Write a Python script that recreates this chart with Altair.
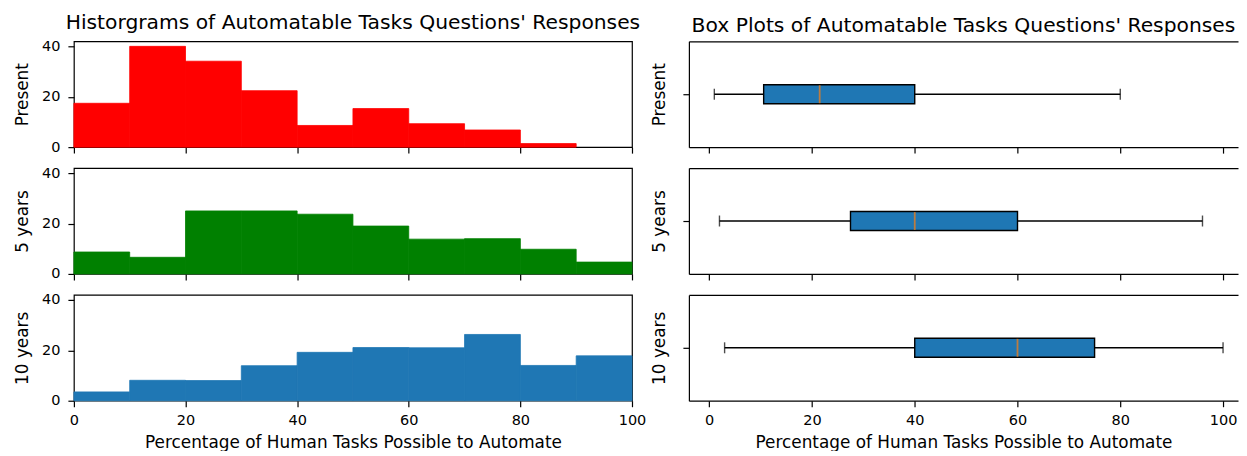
import altair as alt
import pandas as pd

# ---------------- data ----------------
row_labels = ["Present", "5 years", "10 years"]
bin_starts = [0, 10, 20, 30, 40, 50, 60, 70, 80, 90]
bin_ends = [10, 20, 30, 40, 50, 60, 70, 80, 90, 100]
present_counts = [17.4, 40, 34.1, 22.4, 8.6, 15.3, 9.3, 6.8, 1.4, 0]
five_year_counts = [8.7, 6.6, 25, 25, 23.7, 19, 13.8, 14, 9.8, 4.7]
ten_year_counts = [3.5, 8.1, 8, 13.9, 19.2, 21.1, 21, 26.3, 14, 17.8]
hist_counts = [present_counts, five_year_counts, ten_year_counts]
hist_colors = ["#ff0000", "#008000", "#1f77b4"]

box_low = [1, 2, 3]
box_q1 = [10.6, 27.5, 40]
box_median = [21.5, 40, 60]
box_q3 = [40, 60, 75]
box_high = [80, 96, 100]

x_ticks = [0, 20, 40, 60, 80, 100]
y_ticks = [0, 20, 40]
x_title = "Percentage of Human Tasks Possible to Automate"
left_title = "Historgrams of Automatable Tasks Questions' Responses"
right_title = "Box Plots of Automatable Tasks Questions' Responses"

FONT = "DejaVu Sans"
LW, RW, H = 559, 550, 106
LINE = 1.2


def title_params(text):
    return alt.TitleParams(text=text, font=FONT, fontSize=20.3, fontWeight="normal",
                           color="black", anchor="middle", frame="group", offset=5)


def x_axis(bottom, **kw):
    return alt.Axis(values=x_ticks, labels=bottom, title=x_title if bottom else None,
                    labelFlush=False, labelPadding=7, titlePadding=7, **kw)


def hist_panel(i):
    df = pd.DataFrame({"start": bin_starts, "end": bin_ends, "count": hist_counts[i]})
    bottom = i == 2
    ch = alt.Chart(df).transform_filter("datum.count > 0").mark_rect(
        color=hist_colors[i], stroke=hist_colors[i], strokeWidth=0.8).encode(
        x=alt.X("start:Q", scale=alt.Scale(domain=[0, 100], nice=False, zero=False),
                axis=x_axis(bottom, domain=False)),
        x2="end:Q",
        y=alt.Y("count:Q", scale=alt.Scale(domain=[0, 42], nice=False),
                axis=alt.Axis(values=y_ticks, title=row_labels[i], domain=False,
                              labelPadding=8, titlePadding=10)),
        y2=alt.datum(0),
    ).properties(width=LW, height=H)
    if i == 0:
        ch = ch.properties(title=title_params(left_title))
    return ch


def box_panel(i):
    df = pd.DataFrame({
        "label": [row_labels[i]],
        "low": [box_low[i]], "q1": [box_q1[i]], "median": [box_median[i]],
        "q3": [box_q3[i]], "high": [box_high[i]],
    })
    bottom = i == 2
    xs = alt.Scale(domain=[-3.95, 102.91], nice=False, zero=False)
    y = alt.Y("label:N",
              axis=alt.Axis(labels=False, title=row_labels[i], domain=True, ticks=True,
                            titlePadding=14))
    whisk = alt.Chart(df).mark_rule(color="black", strokeWidth=1.4).encode(
        x=alt.X("low:Q", scale=xs, axis=x_axis(bottom, domain=True)),
        x2="high:Q", y=y)
    box = alt.Chart(df).mark_bar(size=19, color="#1f77b4", stroke="black",
                                 strokeWidth=1.4).encode(
        x=alt.X("q1:Q", scale=xs, axis=None), x2="q3:Q", y=y)
    med = alt.Chart(df).mark_tick(color="#ff7f0e", size=18, thickness=1.8).encode(
        x=alt.X("median:Q", scale=xs, axis=None), y=y)
    caps = alt.Chart(df).transform_fold(["low", "high"], as_=["end", "value"]).mark_tick(
        color="black", size=11, thickness=1.4).encode(
        x=alt.X("value:Q", scale=xs,
                axis=alt.Axis(orient="top", labels=False, ticks=False, domain=True, title=None)),
        y=y)
    ch = alt.layer(whisk, box, med, caps).resolve_axis(x="independent").properties(
        width=RW, height=H, view=alt.ViewBackground(stroke="transparent"))
    if i == 0:
        ch = ch.properties(title=title_params(right_title))
    return ch


panels = []
for i in range(3):
    panels.append(hist_panel(i))
    panels.append(box_panel(i))

chart = alt.concat(*panels, columns=2, spacing={"row": 21, "column": 57},
                   bounds="flush").properties(
    padding={"left": 4, "top": 4, "right": 0, "bottom": 0}
).configure_view(stroke="black", strokeWidth=LINE).configure_axis(
    labelFont=FONT, titleFont=FONT, labelFontSize=14.5, titleFontSize=16.9,
    labelColor="black", titleColor="black", titleFontWeight="normal",
    tickColor="black", tickSize=6, tickWidth=LINE, domainColor="black", domainWidth=LINE,
    grid=False,
)

chart.save("out.html", embed_options={"renderer": "svg", "actions": False})
